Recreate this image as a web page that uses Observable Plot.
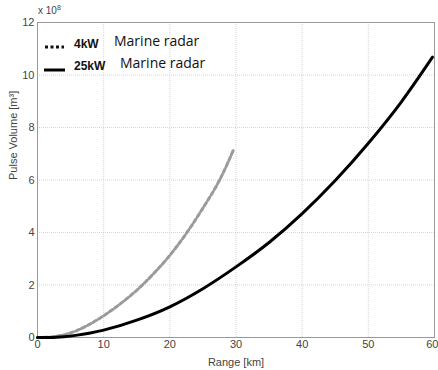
<!DOCTYPE html>
<html>
<head>
<meta charset="utf-8">
<script src="https://cdn.jsdelivr.net/npm/d3@7"></script>
<script src="https://cdn.jsdelivr.net/npm/@observablehq/plot@0.6"></script>
<style>
  html, body { margin: 0; padding: 0; background: #fff; }
  #wrap { position: relative; width: 438px; height: 370px; font-family: "Liberation Sans", Arial, sans-serif; }
  .leg { position: absolute; font-family: "Open Sans", "Liberation Sans", sans-serif; color: #111; white-space: nowrap; }
  .kw { font-weight: bold; font-size: 12px; font-family: "Liberation Sans", sans-serif; }
  .mr { font-size: 14px; }
  .exp { position: absolute; font-size: 10px; color: #444; }
</style>
</head>
<body>
<div id="wrap"></div>
<script>
// Range [km] and pulse volume [x10^8 m^3]
const rangeSmall = [0, 2, 4, 6, 8, 10, 12.5, 15, 17.5, 20, 22.5, 25, 27.5, 29.7];
const volSmall   = [0, 0.02, 0.1, 0.27, 0.52, 0.83, 1.28, 1.8, 2.42, 3.13, 3.97, 4.93, 5.99, 7.19];
const rangeLarge = [0, 2, 4, 6, 8, 10, 15, 20, 25, 30, 35, 40, 45, 50, 55, 59.7];
const volLarge   = [0, 0.0, 0.03, 0.09, 0.17, 0.28, 0.66, 1.17, 1.86, 2.69, 3.62, 4.72, 5.98, 7.4, 8.98, 10.68];
const xTicks = [0, 10, 20, 30, 40, 50, 60];
const yTicks = [0, 2, 4, 6, 8, 10, 12];

const small = rangeSmall.map((r, i) => ({r, v: volSmall[i]}));
const large = rangeLarge.map((r, i) => ({r, v: volLarge[i]}));

const chart = Plot.plot({
  width: 438,
  height: 370,
  marginLeft: 37,
  marginRight: 4,
  marginTop: 22,
  marginBottom: 33,
  style: { fontFamily: "Liberation Sans, Arial, sans-serif", fontSize: "11px", color: "#444", background: "#fff" },
  x: { domain: [0, 60], ticks: xTicks },
  y: { domain: [0, 12], ticks: yTicks },
  marks: [
    Plot.gridX(xTicks, { stroke: "#bbb", strokeOpacity: 0.6, strokeDasharray: "1,1" }),
    Plot.gridY(yTicks, { stroke: "#bbb", strokeOpacity: 0.6, strokeDasharray: "1,1" }),
    Plot.frame({ stroke: "#999", strokeWidth: 1 }),
    Plot.axisX(xTicks.slice(0, -1), { tickSize: 0, tickPadding: 3, label: "Range [km]", labelAnchor: "center", labelArrow: "none", labelOffset: 28, fontSize: 11 }),
    Plot.axisX(xTicks.slice(-1), { tickSize: 0, tickPadding: 3, label: null, textAnchor: "end", dx: 4, fontSize: 11 }),
    Plot.axisY(yTicks, { tickSize: 0, tickPadding: 3, label: null, fontSize: 11 }),
    Plot.text(["Pulse Volume [m³]"], { frameAnchor: "left", rotate: -90, dx: -24, fontSize: 11, fill: "#444" }),
    Plot.line(small, { x: "r", y: "v", stroke: "#9a9a9a", strokeWidth: 3, strokeDasharray: "4,2.5", curve: "monotone-x" }),
    Plot.line(large, { x: "r", y: "v", stroke: "#000", strokeWidth: 3, curve: "monotone-x" })
  ]
});

const wrap = document.getElementById("wrap");
wrap.appendChild(chart);

function add(html, cls, left, top) {
  const d = document.createElement("div");
  d.className = cls;
  d.style.left = left + "px";
  d.style.top = top + "px";
  d.innerHTML = html;
  wrap.appendChild(d);
}
add('x 10<sup style="font-size:7px">8</sup>', "exp", 38, 4);
// legend
add('<svg width="22" height="6"><line x1="1" y1="3" x2="20" y2="3" stroke="#111" stroke-width="3" stroke-dasharray="3,2.5"/></svg>', "leg", 44, 33);
add('<span class="kw">4kW</span>', "leg", 74, 31);
add('<span class="mr">Marine radar</span>', "leg", 114, 29);
add('<svg width="22" height="6"><line x1="0" y1="3" x2="21" y2="3" stroke="#000" stroke-width="3"/></svg>', "leg", 44, 56);
add('<span class="kw">25kW</span>', "leg", 74, 53);
add('<span class="mr">Marine radar</span>', "leg", 120, 51);
</script>
</body>
</html>
